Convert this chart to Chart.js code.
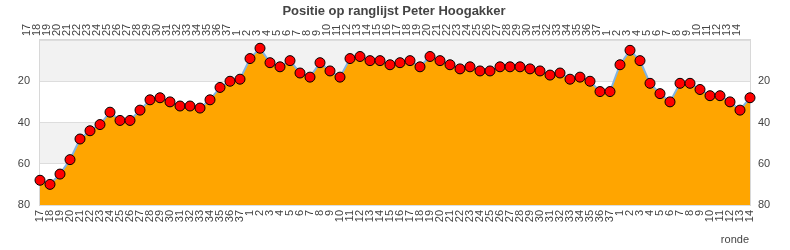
<!DOCTYPE html>
<html>
<head>
<meta charset="utf-8">
<script src="https://cdn.jsdelivr.net/npm/chart.js@4.4.0/dist/chart.umd.min.js"></script>
<style>
  html, body { margin: 0; padding: 0; background: #fff; }
  #wrap { width: 790px; height: 250px; }
</style>
</head>
<body>
<div id="wrap"><canvas id="rankChart" width="790" height="250"></canvas></div>
<script>
// rondes: 17..37, 1..37, 1..14
const rondesA = ['17','18','19','20','21','22','23','24','25','26','27','28','29','30','31','32','33','34','35','36','37'];
const rondesB = ['1','2','3','4','5','6','7','8','9','10','11','12','13','14','15','16','17','18','19','20','21','22','23','24','25','26','27','28','29','30','31','32','33','34','35','36','37'];
const rondesC = ['1','2','3','4','5','6','7','8','9','10','11','12','13','14'];

const positieA = [68, 70, 65, 58, 48, 44, 41, 35, 39, 39, 34, 29, 28, 30, 32, 32, 33, 29, 23, 20, 19];
const positieB = [9, 4, 11, 13, 10, 16, 18, 11, 15, 18, 9, 8, 10, 10, 12, 11, 10, 13, 8, 10, 12, 14, 13, 15, 15, 13, 13, 13, 14, 15, 17, 16, 19, 18, 20, 25, 25];
const positieC = [12, 5, 10, 21, 26, 30, 21, 21, 24, 27, 27, 30, 34, 28];

const yTicks = [20, 40, 60, 80];

const labels = rondesA.concat(rondesB, rondesC);
const posities = positieA.concat(positieB, positieC);

const textColor = '#444';
const fontFam = '"Liberation Sans", Arial, sans-serif';

// grijze/witte banden + kader rond plotgebied
const bandPlugin = {
    id: 'bands',
    beforeDraw(chart) {
        const {ctx, chartArea: a, scales} = chart;
        const y = scales.y;
        ctx.save();
        let prev = 0;
        yTicks.forEach((t, i) => {
            ctx.fillStyle = i % 2 === 0 ? '#f2f2f2' : '#ffffff';
            const top = y.getPixelForValue(prev);
            const bot = y.getPixelForValue(t);
            ctx.fillRect(a.left, top, a.right - a.left, bot - top);
            prev = t;
        });
        ctx.strokeStyle = '#d8d8d8';
        ctx.lineWidth = 1;
        ctx.strokeRect(a.left - 0.5, a.top - 0.5, a.right - a.left + 1, a.bottom - a.top + 1);
        ctx.restore();
    },
    afterDraw(chart) {
        const {ctx} = chart;
        ctx.save();
        ctx.fillStyle = textColor;
        ctx.font = 'bold 13px ' + fontFam;
        ctx.textAlign = 'center';
        ctx.textBaseline = 'middle';
        ctx.fillText('Positie op ranglijst Peter Hoogakker', 394, 11);
        ctx.font = '11px ' + fontFam;
        ctx.textAlign = 'right';
        ctx.fillText('ronde', 749, 240);
        ctx.restore();
    }
};

const xTickOpts = {
    autoSkip: false,
    minRotation: 90,
    maxRotation: 90,
    color: textColor,
    font: {family: fontFam, size: 11},
    padding: 4
};

const ctx = document.getElementById('rankChart').getContext('2d');
const rankChart = new Chart(ctx, {
    type: 'line',
    data: {
        labels: labels,
        datasets: [{
            data: posities,
            borderColor: '#7fb3e3',
            borderWidth: 2,
            backgroundColor: '#ffa500',
            fill: {value: 80},
            tension: 0,
            pointRadius: 5,
            pointHoverRadius: 5,
            pointBackgroundColor: '#ff0000',
            pointBorderColor: '#000000',
            pointBorderWidth: 1,
            clip: false
        }]
    },
    options: {
        responsive: false,
        animation: false,
        layout: {padding: 0},
        plugins: {
            legend: {display: false},
            tooltip: {enabled: false},
            title: {display: false}
        },
        scales: {
            x: {
                type: 'category',
                position: 'bottom',
                offset: false,
                grid: {display: false, drawTicks: false},
                border: {display: false},
                ticks: Object.assign({}, xTickOpts, {padding: 5}),
                afterFit: s => { s.height = 45; }
            },
            x2: {
                type: 'category',
                position: 'top',
                labels: labels,
                offset: false,
                grid: {display: false, drawTicks: false},
                border: {display: false},
                ticks: xTickOpts,
                afterFit: s => { s.height = 40; }
            },
            y: {
                position: 'left',
                min: 0,
                max: 80,
                reverse: true,
                grid: {color: '#dddddd', drawTicks: false},
                border: {display: false},
                ticks: {
                    stepSize: 20,
                    padding: 10,
                    color: textColor,
                    font: {family: fontFam, size: 11},
                    callback: v => (yTicks.includes(v) ? v : '')
                },
                afterFit: s => { s.width = 40; }
            },
            y2: {
                position: 'right',
                min: 0,
                max: 80,
                reverse: true,
                grid: {display: false, drawTicks: false},
                border: {display: false},
                ticks: {
                    stepSize: 20,
                    padding: 8,
                    color: textColor,
                    font: {family: fontFam, size: 11},
                    callback: v => (yTicks.includes(v) ? v : '')
                },
                afterFit: s => { s.width = 40; }
            }
        }
    },
    plugins: [bandPlugin]
});
</script>
</body>
</html>
